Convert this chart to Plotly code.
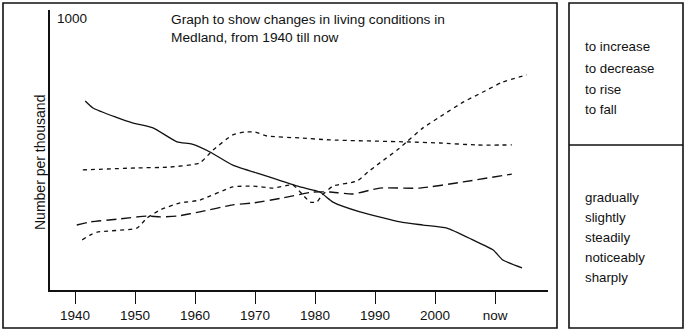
import plotly.graph_objects as go

# ---- data ----
solid_years = [1941.7, 1943, 1946.7, 1949.7, 1953, 1957, 1959.5, 1962.5, 1966.3, 1971.3,
               1977.5, 1980.8, 1983, 1987.5, 1994.2, 1998, 2002, 2006.3, 2009.7, 2011.3, 2014.5]
solid_vals = [675, 650, 618, 596, 579, 529, 521, 493, 446, 411,
              368, 350, 314, 279, 243, 232, 221, 179, 143, 107, 79]

plateau_years = [1941.3, 1950.3, 1955.8, 1960.8, 1963, 1966.3, 1968.3, 1970, 1972, 1977.5,
                 1982.5, 1995.3, 2000.8, 2007, 2012.8]
plateau_vals = [429, 436, 439, 454, 500, 554, 564, 564, 550, 543,
                536, 529, 525, 518, 518]

rising_years = [1941.2, 1942.5, 1943.7, 1950.3, 1952, 1954.2, 1957.5, 1960.8, 1966.3, 1969.7,
                1973, 1976.3, 1978, 1979.2, 1980.3, 1981.2, 1983, 1987, 1988.8, 1990.8,
                1993.7, 1995.3, 1998, 2001.3, 2004.7, 2008, 2011.3, 2015.3]
rising_vals = [179, 196, 207, 221, 257, 286, 311, 321, 368, 371,
               364, 375, 339, 314, 314, 339, 371, 389, 421, 454,
               500, 529, 579, 625, 671, 707, 743, 768]

longdash_years = [1940.3, 1942.5, 1947.5, 1952, 1954.2, 1957, 1960.8, 1966.3, 1969.7, 1974.7,
                  1979.7, 1982.5, 1986.3, 1990.8, 1997.5, 2004.7, 2012.8]
longdash_vals = [232, 243, 254, 264, 261, 264, 279, 304, 311, 329,
                 350, 350, 343, 364, 364, 386, 414]

tick_years = [1940, 1950, 1960, 1970, 1980, 1990, 2000, 2010]
tick_labels = ["1940", "1950", "1960", "1970", "1980", "1990", "2000", "now"]

verbs = ["to increase", "to decrease", "to rise", "to fall"]
adverbs = ["gradually", "slightly", "steadily", "noticeably", "sharply"]

title_lines = ["Graph to show changes in living conditions in", "Medland, from 1940 till now"]

# ---- layout geometry (pixels) ----
W, H = 689, 333
L, R, T, B = 50, 548, 10, 290
PW, PH = R - L, B - T


def px(x):
    return (x - L) / PW


def py(y):
    return (B - y) / PH


FONT = "Liberation Sans, Arial, Helvetica, sans-serif"
INK = "#111111"

fig = go.Figure()
line_common = dict(mode="lines", showlegend=False, hoverinfo="skip")
fig.add_trace(go.Scatter(x=solid_years, y=solid_vals,
                         line=dict(color=INK, width=1.3, shape="spline", smoothing=0.5), **line_common))
fig.add_trace(go.Scatter(x=plateau_years, y=plateau_vals,
                         line=dict(color=INK, width=1.3, dash="4px,4px", shape="spline", smoothing=0.5), **line_common))
fig.add_trace(go.Scatter(x=rising_years, y=rising_vals,
                         line=dict(color=INK, width=1.3, dash="4px,4px", shape="spline", smoothing=0.5), **line_common))
fig.add_trace(go.Scatter(x=longdash_years, y=longdash_vals,
                         line=dict(color=INK, width=1.4, dash="10px,5px", shape="spline", smoothing=0.5), **line_common))

x0 = 1940 + (L - 75) / 6
x1 = 1940 + (R - 75) / 6

fig.update_layout(
    width=W, height=H,
    margin=dict(l=L, r=W - R, t=T, b=H - B),
    paper_bgcolor="white", plot_bgcolor="white",
    font=dict(family=FONT, size=13.5, color=INK),
    xaxis=dict(range=[x0, x1], tickmode="array", tickvals=tick_years, ticktext=tick_labels,
               showgrid=False, zeroline=False, showline=True, linecolor=INK, linewidth=1.6,
               ticks="outside", ticklen=12, tickwidth=1.4, tickcolor=INK,
               tickfont=dict(size=13.5, family=FONT, color=INK)),
    yaxis=dict(range=[0, 1000], showgrid=False, zeroline=False, showline=True, linecolor=INK,
               linewidth=1.6, showticklabels=False, ticks=""),
)

shapes = []
# main frame
shapes.append(dict(type="rect", xref="paper", yref="paper",
                   x0=px(3), x1=px(557), y0=py(328), y1=py(3),
                   line=dict(color=INK, width=1.6)))
# side panel
shapes.append(dict(type="rect", xref="paper", yref="paper",
                   x0=px(569), x1=px(683), y0=py(328), y1=py(3),
                   line=dict(color=INK, width=1.6)))
shapes.append(dict(type="line", xref="paper", yref="paper",
                   x0=px(569), x1=px(683), y0=py(145), y1=py(145),
                   line=dict(color=INK, width=1.3)))
fig.update_layout(shapes=shapes)

ann = []
ann.append(dict(text="1000", x=px(55), y=py(18), xref="paper", yref="paper",
                xanchor="left", yanchor="middle", showarrow=False, font=dict(size=13.5)))
ann.append(dict(text="Number per thousand", x=px(40), y=py(163), xref="paper", yref="paper",
                xanchor="center", yanchor="middle", textangle=-90, showarrow=False,
                font=dict(size=14)))
for i, t in enumerate(title_lines):
    ann.append(dict(text=t, x=px(169), y=py(20 + 18 * i), xref="paper", yref="paper",
                    xanchor="left", yanchor="middle", showarrow=False, font=dict(size=13.7)))
for i, t in enumerate(verbs):
    ann.append(dict(text=t, x=px(583), y=py(47 + 21 * i), xref="paper", yref="paper",
                    xanchor="left", yanchor="middle", showarrow=False, font=dict(size=13.3)))
for i, t in enumerate(adverbs):
    ann.append(dict(text=t, x=px(583), y=py(197 + 20 * i), xref="paper", yref="paper",
                    xanchor="left", yanchor="middle", showarrow=False, font=dict(size=13.3)))
fig.update_layout(annotations=ann)

fig.write_html("out.html")
